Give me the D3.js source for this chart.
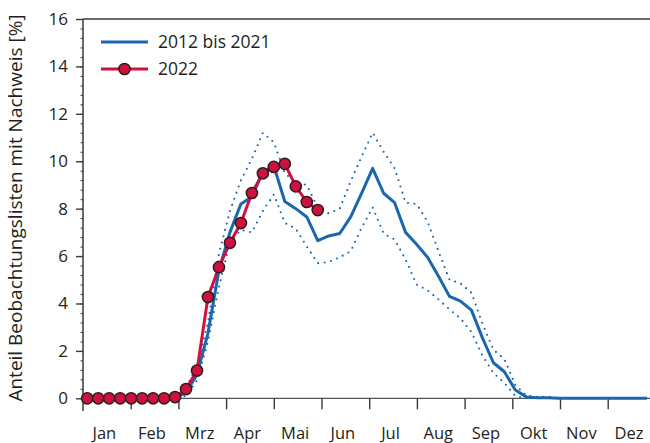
<!DOCTYPE html>
<html>
<head>
<meta charset="utf-8">
<script src="https://cdn.jsdelivr.net/npm/d3@7"></script>
<style>
  html, body { margin: 0; padding: 0; background: #fff; }
  svg { display: block; }
  text { font-family: "Open Sans", "Noto Sans", sans-serif; fill: #231f20; }
</style>
</head>
<body>
<svg id="chart" width="650" height="443"></svg>
<script>
// Monthly axis labels
const months = ["Jan", "Feb", "Mrz", "Apr", "Mai", "Jun", "Jul", "Aug", "Sep", "Okt", "Nov", "Dez"];
const yTicks = [0, 2, 4, 6, 8, 10, 12, 14, 16];

// Calendar weeks 1..52
const weeks = d3.range(1, 53);

// Share of observation lists with a record [%], mean 2012 to 2021
const mean2012to2021 = [
  0, 0, 0, 0, 0, 0, 0, 0, 0, 0.25,
  1.0, 2.75, 5.4, 7.0, 8.2, 8.5, 9.55, 9.8, 8.3, 8.0,
  7.65, 6.65, 6.85, 6.95, 7.65, 8.65, 9.7, 8.65, 8.25, 7.0,
  6.5, 5.95, 5.15, 4.3, 4.1, 3.72, 2.55, 1.5, 1.12, 0.35,
  0.06, 0.02, 0.02, 0, 0, 0, 0, 0, 0, 0,
  0, 0
];
// Upper and lower bound of the 2012 to 2021 range
const upper2012to2021 = [
  0, 0, 0, 0, 0, 0, 0, 0, 0, 0.45,
  1.35, 3.2, 6.1, 7.9, 9.2, 10.1, 11.2, 10.8, 9.5, 9.1,
  9.0, 8.05, 7.8, 8.0, 9.15, 10.2, 11.2, 10.4, 9.7, 8.25,
  8.2, 7.45, 6.2, 5.0, 4.85, 4.45, 3.15, 2.05, 1.65, 0.56,
  0.12, 0.06, 0.06, 0, 0, 0, 0, 0, 0, 0,
  0, 0
];
const lower2012to2021 = [
  0, 0, 0, 0, 0, 0, 0, 0, 0, 0.1,
  0.75, 2.4, 4.7, 6.6, 7.1, 7.0, 7.9, 8.6, 7.4, 7.15,
  6.4, 5.7, 5.75, 5.95, 6.2, 7.2, 8.05, 6.95, 6.7, 5.85,
  4.8, 4.55, 4.17, 3.75, 3.37, 2.8, 1.8, 1.07, 0.65, 0.1,
  0, 0, 0, 0, 0, 0, 0, 0, 0, 0,
  0, 0
];
// Season 2022 (weeks 1..22)
const values2022 = [
  0, 0, 0, 0, 0, 0, 0, 0, 0.05, 0.39,
  1.17, 4.27, 5.53, 6.56, 7.39, 8.66, 9.49, 9.76, 9.89, 8.94,
  8.28, 7.94
];

const blue = "#1b67ad";
const red = "#d0103f";
const axisColor = "#3a3a3a";

const svg = d3.select("#chart");
const plotLeft = 83, plotRight = 655.4, plotTop = 19, plotBottom = 398.3;

// x: day of year, months drawn with equal widths
const x = d3.scaleLinear().domain([0, 365]).range([plotLeft, plotRight]);
const weekDay = w => 7 * w - 4.3;
const monthStart = i => i * 365 / 12;
const y = d3.scaleLinear().domain([0, 16]).range([plotBottom, plotTop]);

// frame lines
svg.append("line")
  .attr("x1", plotLeft).attr("x2", 650).attr("y1", plotTop).attr("y2", plotTop)
  .attr("stroke", axisColor).attr("stroke-width", 1.5);
svg.append("line")
  .attr("x1", plotLeft).attr("x2", 650).attr("y1", plotBottom).attr("y2", plotBottom)
  .attr("stroke", "#555").attr("stroke-width", 1.2);

// bottom axis: month boundaries
const xAxis = d3.axisBottom(x)
  .tickValues(d3.range(1, 12).map(monthStart))
  .tickSize(11).tickFormat("");
const gx = svg.append("g").attr("transform", `translate(0,${plotBottom})`).call(xAxis);
gx.select(".domain").remove();
gx.selectAll(".tick line").attr("stroke", axisColor).attr("stroke-width", 1.4);

svg.append("g").selectAll("text").data(months).join("text")
  .attr("x", (d, i) => x(monthStart(i + 0.5)) - 2.5)
  .attr("y", 439)
  .attr("text-anchor", "middle")
  .attr("font-size", 16.5)
  .text(d => d);

// left axis: minor ticks every 0.4, major every 2
const gyMinor = svg.append("g").attr("transform", `translate(${plotLeft},0)`)
  .call(d3.axisLeft(y).tickValues(d3.range(0, 40).map(i => i * 0.4)).tickSize(2.5).tickFormat(""));
gyMinor.select(".domain").remove();
gyMinor.selectAll(".tick line").attr("stroke", axisColor).attr("stroke-width", 1);

const gy = svg.append("g").attr("transform", `translate(${plotLeft},0)`)
  .call(d3.axisLeft(y).tickValues(yTicks).tickSize(7).tickPadding(8));
gy.select(".domain").remove();
gy.selectAll(".tick line").attr("stroke", axisColor).attr("stroke-width", 1.4);
gy.selectAll(".tick text")
  .attr("font-size", 17)
  .attr("font-family", "'Open Sans', 'Noto Sans', sans-serif")
  .attr("fill", "#231f20");

svg.append("line")
  .attr("x1", plotLeft).attr("x2", plotLeft).attr("y1", plotTop).attr("y2", 411)
  .attr("stroke", axisColor).attr("stroke-width", 1.5);

// y axis title
svg.append("text")
  .attr("transform", `translate(22,208) rotate(-90)`)
  .attr("text-anchor", "middle")
  .attr("font-size", 19)
  .text("Anteil Beobachtungslisten mit Nachweis [%]");

// series
const lineOf = arr => d3.line()
  .x((d, i) => x(weekDay(weeks[i])))
  .y(d => y(d))(arr);

[upper2012to2021, lower2012to2021].forEach(arr => {
  svg.append("path")
    .attr("d", lineOf(arr))
    .attr("fill", "none")
    .attr("stroke", blue)
    .attr("stroke-width", 2.1)
    .attr("stroke-linecap", "round")
    .attr("stroke-dasharray", "0 6.5");
});

svg.append("path")
  .attr("d", lineOf(mean2012to2021))
  .attr("fill", "none")
  .attr("stroke", blue)
  .attr("stroke-width", 3)
  .attr("stroke-linejoin", "round");

svg.append("path")
  .attr("d", lineOf(values2022))
  .attr("fill", "none")
  .attr("stroke", red)
  .attr("stroke-width", 3)
  .attr("stroke-linejoin", "round");

svg.append("g").selectAll("circle").data(values2022).join("circle")
  .attr("cx", (d, i) => x(weekDay(weeks[i])))
  .attr("cy", d => y(d))
  .attr("r", 5.6)
  .attr("fill", red)
  .attr("stroke", "#2b1d1f")
  .attr("stroke-width", 1.5);

// legend
const legend = svg.append("g");
legend.append("line").attr("x1", 101).attr("x2", 148).attr("y1", 42).attr("y2", 42)
  .attr("stroke", blue).attr("stroke-width", 3);
legend.append("text").attr("x", 158).attr("y", 48).attr("font-size", 17.5).text("2012 bis 2021");
legend.append("line").attr("x1", 101).attr("x2", 148).attr("y1", 69).attr("y2", 69)
  .attr("stroke", red).attr("stroke-width", 3);
legend.append("circle").attr("cx", 124.5).attr("cy", 69).attr("r", 5.6)
  .attr("fill", red).attr("stroke", "#2b1d1f").attr("stroke-width", 1.5);
legend.append("text").attr("x", 158).attr("y", 75).attr("font-size", 17.5).text("2022");
</script>
</body>
</html>
